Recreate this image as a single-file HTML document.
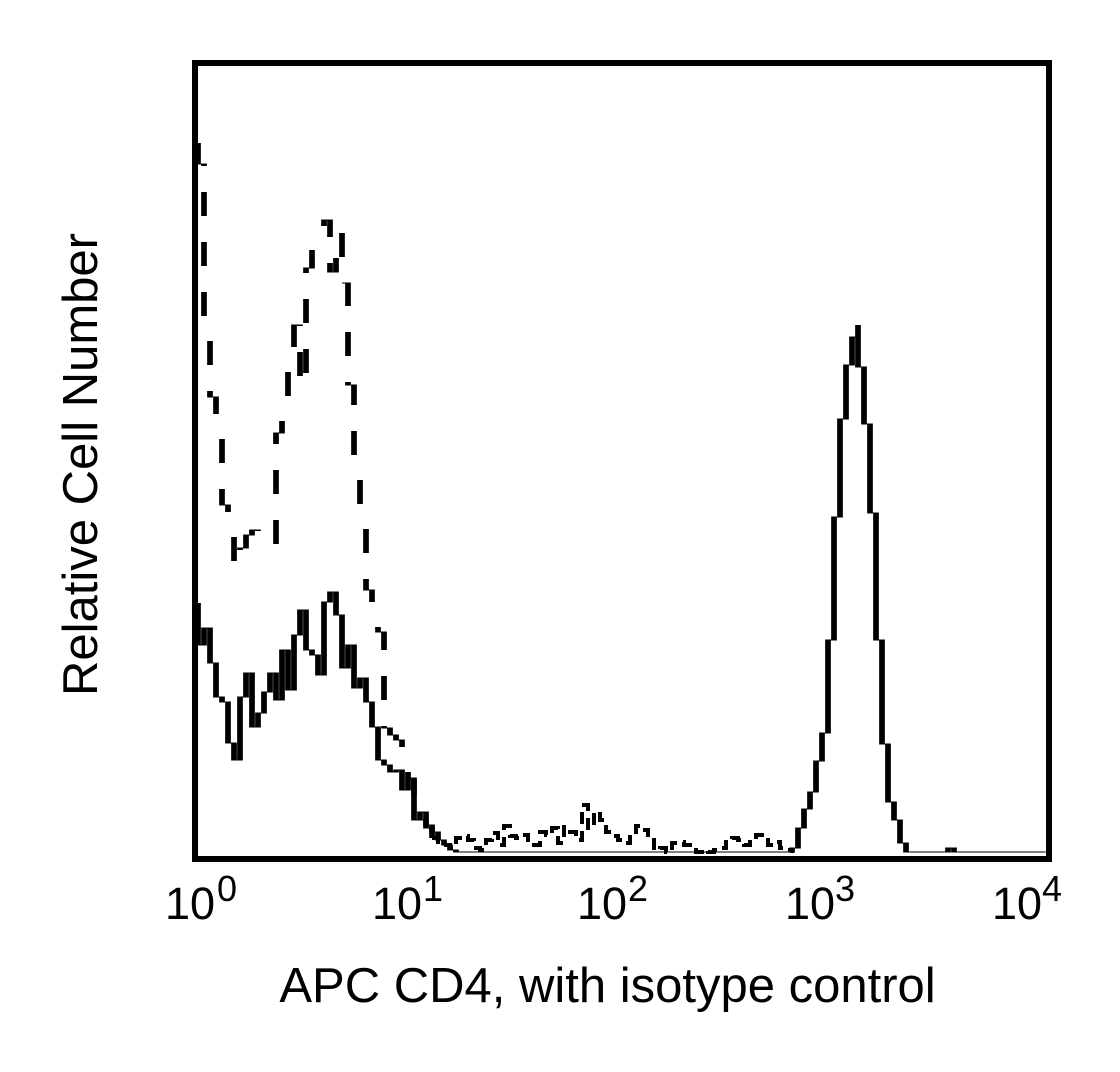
<!DOCTYPE html>
<html>
<head>
<meta charset="utf-8">
<style>
  html, body { margin: 0; padding: 0; background: #ffffff; }
  svg { display: block; }
  text { font-family: "Liberation Sans", Arial, sans-serif; fill: #000; }
</style>
</head>
<body>
<svg width="1120" height="1072" viewBox="0 0 1120 1072" xmlns="http://www.w3.org/2000/svg">
  <rect x="0" y="0" width="1120" height="1072" fill="#ffffff"/>

  <!-- histograms: scaled 6x horizontally so vertical strokes are thick, horizontal thin -->
  <g transform="scale(6,1)" fill="none" stroke="#000" stroke-linecap="butt" stroke-linejoin="miter" stroke-miterlimit="4">
    <!-- dashed (isotype) -->
    <path stroke-width="0.95" stroke-dasharray="24 26"
      d="M33 143V164H34V316H35V397H36V420H37V505H38V518H39V568H40V548H41V535H42V530H43V532H44V528H45V545H46V433H47V405H48V355H49V325H50V387H51V268H52V238H53V226H54V220H55V272H56V233H57V283H58V385H59V465H60V517H61V590H62V625H63V632H64V728H65V735H66V740H67V755H68V780H69V800H70V815H71V828H72V838"/>
    <!-- solid (CD4) -->
    <path stroke-width="0.95"
      d="M33 603V645H34V628H35V663H36V697H37V702H38V743H39V760H40V697H41V673H42V727H43V713H44V692H45V673H46V700H47V650H48V690H49V635H50V610H51V650H52V655H53V675H54V602H55V592H56V615H57V668H58V645H59V688H60V678H61V702H62V727H63V760H64V765H65V772H66V770H67V790H68V778H69V820H70V812H71V825H72V832H73V840H74V845H75V850H76V852H132V848H133V828H134V809H135V792H136V761H137V733H138V640H139V517H140V419H141V365H142V337H143V325V367H144V424H145V513H146V640H147V744H148V802H149V820H150V843H151V852H158V848H159V852H174.3"/>
  </g>

  <!-- dashed noise near baseline (thicker pen) -->
  <path fill="none" stroke="#000" stroke-width="4" stroke-dasharray="12 7" stroke-linejoin="miter"
    d="M432 838H438V842H444V845H450V848H456V838H462V836H468V840H474V848H480V850H486V840H492V833H498V845H504V826H510V836H516V838H522V835H528V840H534V845H540V832H546V835H552V828H558V843H564V827H570V832H576V840H582V805H588V828H594V812H600V820H606V832H612V836H618V840H624V843H630V835H636V826H642V830H648V840H654V850H660V848H666V852H672V843H678V842H684V845H690V848H696V852H702V850H708V852H714V850H720V848H726V842H732V838H738V840H744V845H750V840H756V835H762V840H768V845H774V842H780V848H786V850H792V853"/>

  <!-- frame -->
  <rect x="195" y="63" width="854" height="796" fill="none" stroke="#000" stroke-width="6"/>

  <!-- tick labels -->
  <text x="165" y="919" font-size="45">10</text><text x="217" y="901" font-size="36">0</text>
  <text x="372" y="919" font-size="45">10</text><text x="423" y="901" font-size="36">1</text>
  <text x="577" y="919" font-size="45">10</text><text x="628" y="901" font-size="36">2</text>
  <text x="785" y="919" font-size="45">10</text><text x="835" y="901" font-size="36">3</text>
  <text x="992" y="919" font-size="45">10</text><text x="1042" y="901" font-size="36">4</text>

  <!-- axis titles -->
  <text x="607.5" y="1002" font-size="49" text-anchor="middle">APC CD4, with isotype control</text>
  <text transform="translate(97,464.5) rotate(-90)" font-size="49" text-anchor="middle">Relative Cell Number</text>
</svg>
</body>
</html>
